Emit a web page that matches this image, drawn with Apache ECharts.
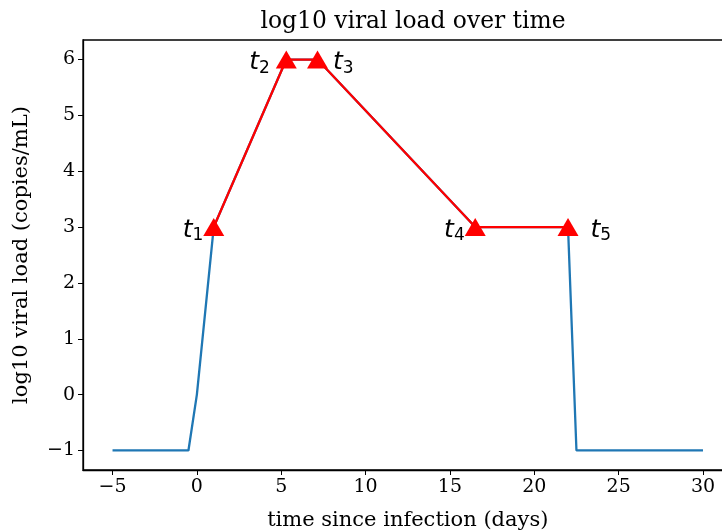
<!DOCTYPE html>
<html>
<head>
<meta charset="utf-8">
<script src="https://cdn.jsdelivr.net/npm/echarts@6/dist/echarts.min.js"></script>
<style>
  html, body { margin: 0; padding: 0; background: #fff; }
  #chart { width: 722px; height: 531px; }
</style>
</head>
<body>
<div id="chart"></div>
<script>
// viral load curve (blue)
const curveDays = [-5, -0.5, 0, 1, 5.3, 7.15, 16.5, 22, 22.5, 30];
const curveLoad = [-1, -1, 0, 3, 6, 6, 3, 3, -1, -1];

// key time points (red)
const keyDays = [1, 5.3, 7.15, 16.5, 22];
const keyLoad = [3, 6, 6, 3, 3];
const keyNames = ['1', '2', '3', '4', '5'];
const keySide = ['left', 'left', 'right', 'left', 'right'];
const keyGap = [0, 6, 5, 0, 12];

const xTicks = [-5, 0, 5, 10, 15, 20, 25, 30];
const yTicks = [-1, 0, 1, 2, 3, 4, 5, 6];

const serif = 'DejaVu Serif';
const chart = echarts.init(document.getElementById('chart'));

const minus = v => String(v).replace('-', '\u2212');

chart.setOption({
  animation: false,
  title: {
    text: 'log10 viral load over time',
    left: 408,
    textAlign: 'center',
    top: 5,
    textStyle: { fontFamily: serif, fontSize: 23.4, fontWeight: 'normal', color: '#000' }
  },
  // the plot runs a little past the right edge of the picture
  grid: {
    left: 83, top: 40, width: 649.5, height: 430,
    outerBoundsMode: 'none', containLabel: false,
    show: true, borderColor: '#000', borderWidth: 1.3
  },
  xAxis: {
    type: 'value',
    min: -6.75,
    max: 31.75,
    name: 'time since infection (days)',
    nameLocation: 'middle',
    nameGap: 40,
    nameTextStyle: { fontFamily: serif, fontSize: 21, color: '#000' },
    axisLine: { show: true, onZero: false, lineStyle: { color: '#000', width: 1.3 } },
    axisTick: { show: true, customValues: xTicks, length: 5, lineStyle: { color: '#000' } },
    axisLabel: { customValues: xTicks, formatter: minus, fontFamily: serif, fontSize: 19, color: '#000', margin: 8 },
    splitLine: { show: false }
  },
  yAxis: {
    type: 'value',
    min: -1.35,
    max: 6.35,
    name: 'log10 viral load (copies/mL)',
    nameLocation: 'middle',
    nameGap: 51,
    nameTextStyle: { fontFamily: serif, fontSize: 21, color: '#000' },
    axisLine: { show: true, onZero: false, lineStyle: { color: '#000', width: 1.3 } },
    axisTick: { show: true, customValues: yTicks, length: 5, lineStyle: { color: '#000' } },
    axisLabel: { customValues: yTicks, formatter: minus, fontFamily: serif, fontSize: 19, color: '#000', margin: 8 },
    splitLine: { show: false }
  },
  series: [
    {
      type: 'line',
      data: curveDays.map((d, i) => [d, curveLoad[i]]),
      showSymbol: false,
      lineStyle: { color: '#1f77b4', width: 2.3 },
      z: 2
    },
    {
      type: 'line',
      data: keyDays.map((d, i) => ({
        value: [d, keyLoad[i]],
        label: { position: keySide[i], distance: keyGap[i] }
      })),
      symbol: 'triangle',
      symbolSize: [21, 18],
      itemStyle: { color: '#ff0000' },
      lineStyle: { color: '#ff0000', width: 2.3 },
      label: {
        show: true,
        offset: [0, 3],
        formatter: p => '{t|t}{s|' + keyNames[p.dataIndex] + '}',
        rich: {
          t: { fontFamily: 'DejaVu Sans', fontStyle: 'italic', fontSize: 25, color: '#000' },
          s: { fontFamily: 'DejaVu Sans', fontSize: 17, color: '#000', padding: [12, 0, 0, 0] }
        }
      },
      z: 3
    }
  ]
});
</script>
</body>
</html>
